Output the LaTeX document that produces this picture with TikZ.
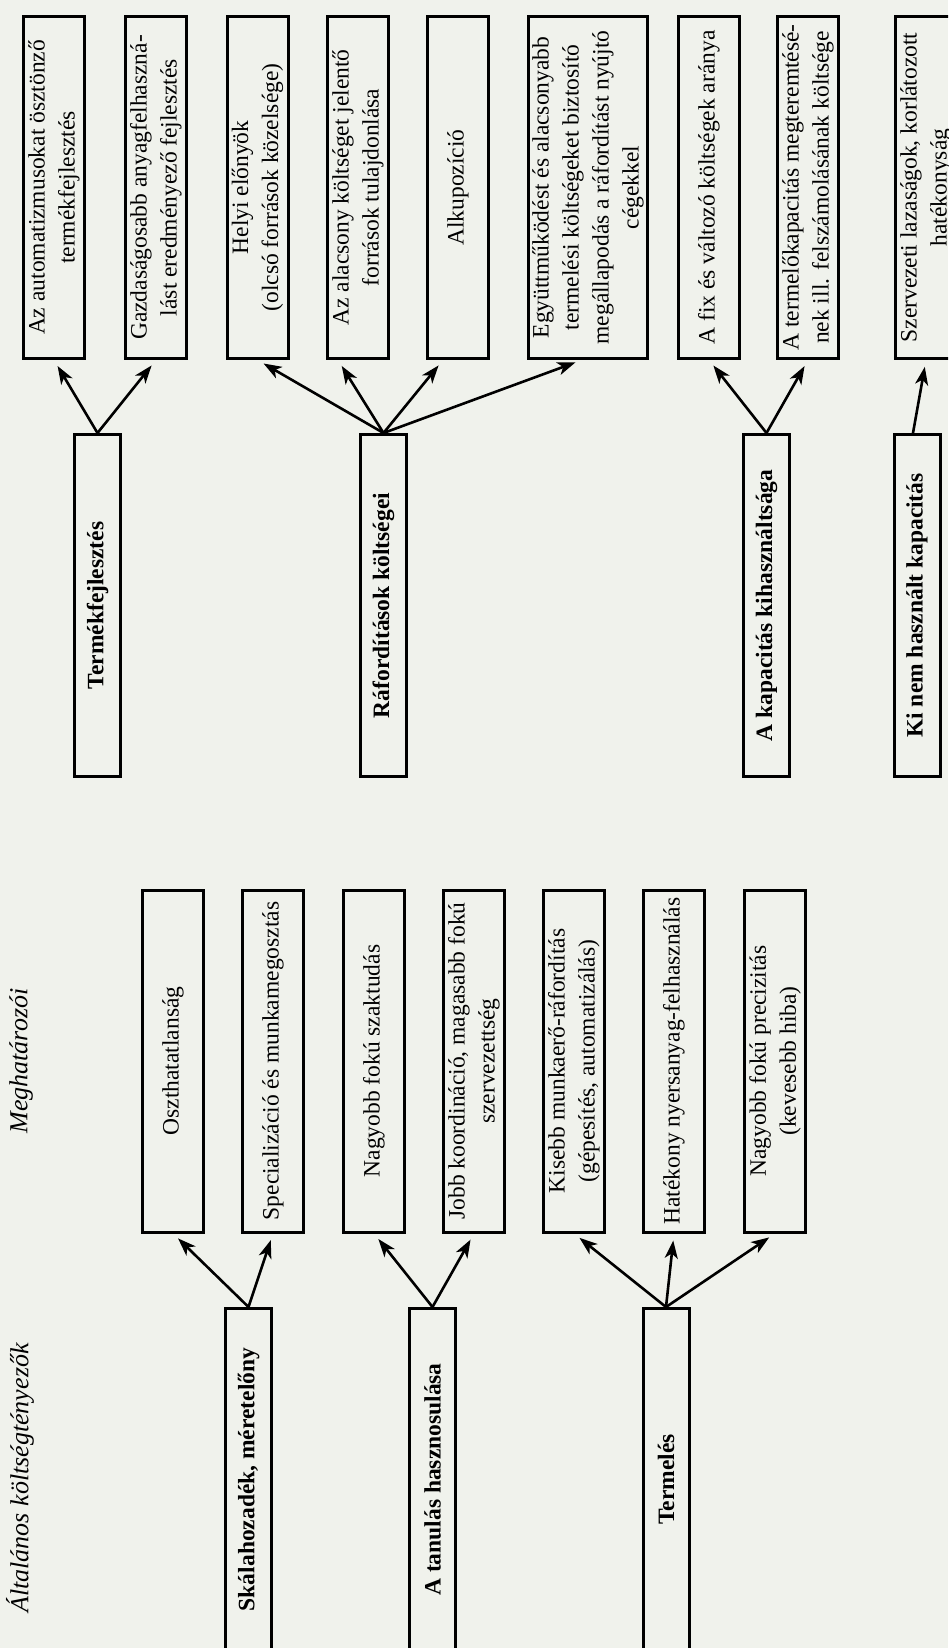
\documentclass[tikz,border=0pt]{standalone}
\usepackage{fontspec}
\setmainfont{Liberation Serif}
\usetikzlibrary{arrows.meta,calc}
\definecolor{paper}{RGB}{240,242,236}

\begin{document}
\begin{tikzpicture}
	[x=0.5pt,y=-0.5pt,->,>={Stealth[length=9pt,width=6.5pt,inset=2.5pt]},shorten >=3.5pt,
		line width=1.3pt,
		box node/.style={draw,line width=1.5pt,rotate=90,align=center,inner sep=2pt,minimum width=171pt,font=\fontsize{11.75}{15}\selectfont},
		leaf node/.style={box node,minimum height=30.5pt},
		root node/.style={box node,minimum height=23pt,font=\fontsize{11.75}{15}\selectfont\bfseries},
		head node/.style={rotate=90,font=\fontsize{13}{15}\selectfont\itshape}]

	\path[-,use as bounding box,fill=paper] (0,0) rectangle (948,1648);
	\clip (0,0) rectangle (948,1648);

	% felso sor
	\node[leaf node] (fej1) at (54,187.5) {Az automatizmusokat ösztönző\\termékfejlesztés};
	\node[leaf node] (fej2) at (156,187.5) {Gazdaságosabb anyagfelhaszná-\\lást eredményező fejlesztés};
	\node[leaf node] (raf1) at (257.5,187.5) {Helyi előnyök\\(olcsó források közelsége)};
	\node[leaf node] (raf2) at (358,187.5) {Az alacsony költséget jelentő\\források tulajdonlása};
	\node[leaf node] (raf3) at (458,187.5) {Alkupozíció};
	\node[leaf node,minimum height=59.5pt] (raf4) at (588,187.5) {Együttműködést és alacsonyabb\\termelési költségeket biztosító\\megállapodás a ráfordítást nyújtó\\cégekkel};
	\node[leaf node] (kap1) at (709,187.5) {A fix és változó költségek aránya};
	\node[leaf node] (kap2) at (808,187.5) {A termelőkapacitás megteremtésé-\\nek ill. felszámolásának költsége};
	\node[leaf node] (kin1) at (926,187.5) {Szervezeti lazaságok, korlátozott\\hatékonyság};

	\node[root node] (fejl) at (97.5,605.5) {Termékfejlesztés};
	\node[root node] (rafo) at (383.5,605.5) {Ráfordítások költségei};
	\node[root node] (kapa) at (766.5,605.5) {A kapacitás kihasználtsága};
	\node[root node] (kinem) at (917,605.5) {Ki nem használt kapacitás};

	% also sor
	\node[head node] (meg) at (21,1061) {Meghatározói};
	\node[head node] (alt) at (20,1478) {Általános költségtényezők};

	\node[leaf node] (osz) at (173,1061) {Oszthatatlanság};
	\node[leaf node] (spec) at (273,1061) {Specializáció és munkamegosztás};
	\node[leaf node] (szak) at (374,1061) {Nagyobb fokú szaktudás};
	\node[leaf node] (koord) at (474,1061) {Jobb koordináció, magasabb fokú\\szervezettség};
	\node[leaf node] (munka) at (574,1061) {Kisebb munkaerő-ráfordítás\\(gépesítés, automatizálás)};
	\node[leaf node] (nyers) at (674,1061) {Hatékony nyersanyag-felhasználás};
	\node[leaf node] (prec) at (775,1061) {Nagyobb fokú precizitás\\(kevesebb hiba)};

	\node[root node] (skala) at (248.5,1479.5) {Skálahozadék, méretelőny};
	\node[root node] (tanul) at (432.5,1479.5) {A tanulás hasznosulása};
	\node[root node] (term) at (666,1479.5) {Termelés};

	\path[]
	(fejl.east) edge (fej1.west)
	edge (fej2.west)
	(rafo.east) edge (raf1.west)
	edge ($(raf2.west)+(-20,0)$)
	edge ($(raf3.west)+(-15,0)$)
	edge ($(raf4.west)+(-6,0)$)
	(kapa.east) edge (kap1.west)
	edge (kap2.west)
	($(kinem.east)+(-4,0)$) edge (kin1.west)

	(skala.east) edge (osz.west)
	edge (spec.west)
	(tanul.east) edge (szak.west)
	edge (koord.west)
	(term.east) edge (munka.west)
	edge (nyers.west)
	edge (prec.west)
	;

\end{tikzpicture}
\end{document}
